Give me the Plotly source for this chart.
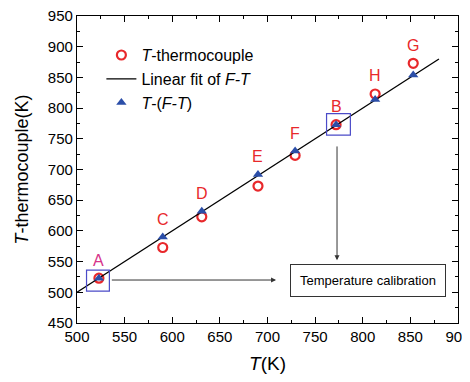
import plotly.graph_objects as go

# Data
labels = ["A", "C", "D", "E", "F", "B", "H", "G"]
T_meas = [523, 590, 631, 690, 729, 772, 813, 853]
T_thermo = [523, 573, 623, 673, 723, 773, 823, 873]
T_ft = [523, 590, 632, 692, 730, 773, 814, 854]
fit_x = [500, 880]
fit_y = [500, 880]
label_colors = ["#d6338a", "#e8282b", "#e8282b", "#e8282b", "#e8282b", "#e8282b", "#e8282b", "#e8282b"]

RED = "#e8282b"
BLUE = "#2b4ea8"
FONT = "Liberation Sans, Arial, sans-serif"

fig = go.Figure()
fig.add_trace(go.Scatter(x=T_meas, y=T_thermo, mode="markers", name="<i>T</i>-thermocouple",
                         marker=dict(symbol="circle-open", size=9, color=RED, line=dict(width=2.2, color=RED))))
fig.add_trace(go.Scatter(x=fit_x, y=fit_y, mode="lines", name="Linear fit of <i>F-T</i>",
                         line=dict(color="black", width=1.3)))
fig.add_trace(go.Scatter(x=T_meas, y=T_ft, mode="markers", name="<i>T</i>-(<i>F-T</i>)",
                         marker=dict(symbol="triangle-up", size=9, color=BLUE)))

# point letters
for lab, x, y1, y2, c in zip(labels, T_meas, T_thermo, T_ft, label_colors):
    fig.add_annotation(x=x, y=max(y1, y2), text=lab, showarrow=False, yshift=18,
                       font=dict(size=16, color=c, family=FONT))

# boxes around A and B
fig.add_shape(type="rect", x0=510, x1=534, y0=502, y1=536, line=dict(color="#4b4bc8", width=1.2))
fig.add_shape(type="rect", x0=762, x1=787, y0=756, y1=791, line=dict(color="#4b4bc8", width=1.2))

# calibration box
fig.add_annotation(x=805, y=520, text="Temperature calibration", showarrow=False,
                   font=dict(size=13, color="black", family=FONT),
                   bordercolor="#333", borderwidth=1, borderpad=8, bgcolor="white", width=138)
# arrows
fig.add_annotation(x=709, y=520, ax=535, ay=520, axref="x", ayref="y", xref="x", yref="y",
                   showarrow=True, arrowhead=2, arrowsize=1, arrowwidth=1, arrowcolor="#333", text="")
fig.add_annotation(x=773, y=552, ax=773, ay=740, axref="x", ayref="y", xref="x", yref="y",
                   showarrow=True, arrowhead=2, arrowsize=1, arrowwidth=1, arrowcolor="#333", text="")

axis_common = dict(showline=True, linecolor="black", linewidth=1.3, mirror="ticks",
                   ticks="inside", ticklen=6, tickwidth=1.2, tickcolor="black",
                   showgrid=False, zeroline=False, automargin=False, ticklabeloverflow="allow",
                   tickfont=dict(size=15, family=FONT, color="black"),
                   minor=dict(ticks="inside", ticklen=3, tickwidth=1, tickcolor="black", dtick=25))

fig.update_xaxes(range=[500, 900], dtick=50, title=dict(text="<i>T</i>(K)", font=dict(size=19, family=FONT), standoff=17),
                 **axis_common)
fig.update_yaxes(range=[450, 950], dtick=50, title=dict(text="<i>T</i>-thermocouple(K)", font=dict(size=18, family=FONT), standoff=14),
                 **axis_common)

# page body has an 8px margin: figure is sized/offset to compensate (no page overflow)
fig.update_layout(width=462, height=366, margin=dict(l=69, r=12, t=8, b=51, autoexpand=False),
                  plot_bgcolor="white", paper_bgcolor="white",
                  font=dict(family=FONT, color="black"),
                  legend=dict(x=0.064, y=0.928, xanchor="left", yanchor="top", bgcolor="rgba(0,0,0,0)",
                              font=dict(size=16, family=FONT), tracegroupgap=0, itemwidth=30))

fig.write_html("out.html")
